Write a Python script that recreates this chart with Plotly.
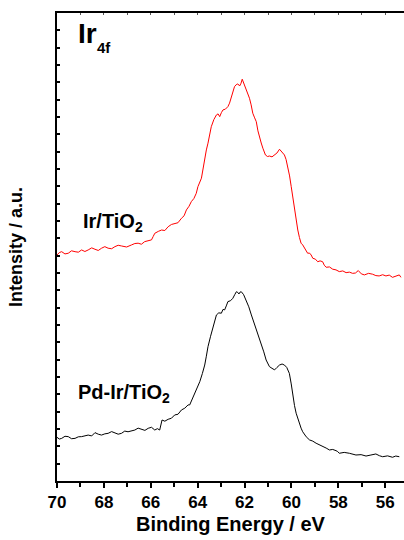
import plotly.graph_objects as go

# Ir/TiO2 (red, upper spectrum): binding energy (eV) and intensity (a.u.)
ir_be = [70.00, 69.90, 69.80, 69.66, 69.52, 69.38, 69.23, 69.09, 68.95, 68.81, 68.67, 68.52,
         68.38, 68.24, 68.10, 67.96, 67.82, 67.67, 67.53, 67.39, 67.25, 67.03, 66.82, 66.68,
         66.54, 66.40, 66.26, 66.11, 65.97, 65.90, 65.83, 65.68, 65.54, 65.40, 65.26, 65.12,
         64.98, 64.84, 64.69, 64.58, 64.48, 64.37, 64.27, 64.16, 64.06, 63.99, 63.84, 63.77,
         63.70, 63.63, 63.56, 63.49, 63.42, 63.31, 63.20, 63.13, 63.06, 62.99, 62.92, 62.82,
         62.71, 62.64, 62.57, 62.50, 62.43, 62.36, 62.29, 62.21, 62.15, 62.10, 62.02, 61.93,
         61.86, 61.79, 61.72, 61.65, 61.57, 61.50, 61.43, 61.36, 61.29, 61.22, 61.16, 61.11,
         61.02, 60.94, 60.83, 60.72, 60.62, 60.51, 60.44, 60.37, 60.30, 60.23, 60.16, 60.08,
         60.01, 59.90, 59.80, 59.73, 59.66, 59.59, 59.52, 59.44, 59.37, 59.31, 59.23, 59.16,
         59.09, 58.98, 58.88, 58.78, 58.67, 58.60, 58.52, 58.38, 58.24, 58.10, 57.96, 57.81,
         57.67, 57.53, 57.39, 57.27, 57.15, 57.02, 56.89, 56.71, 56.54, 56.40, 56.26, 56.11,
         55.97, 55.83, 55.69, 55.55, 55.40, 55.33]
ir_int = [13.04, 13.18, 13.23, 13.10, 13.14, 13.28, 13.23, 13.20, 13.33, 13.24, 13.33, 13.45,
          13.37, 13.30, 13.43, 13.52, 13.43, 13.40, 13.52, 13.60, 13.56, 13.50, 13.62, 13.70,
          13.72, 13.66, 13.81, 13.84, 13.91, 14.10, 14.29, 14.40, 14.48, 14.45, 14.67, 14.80,
          14.87, 14.90, 15.16, 15.30, 15.64, 15.85, 16.12, 16.30, 16.60, 16.98, 17.47, 18.10,
          18.71, 19.10, 19.49, 20.00, 20.44, 20.85, 21.12, 21.18, 21.02, 21.25, 21.41, 21.45,
          21.60, 21.80, 22.08, 22.45, 22.75, 22.86, 22.91, 22.79, 22.95, 23.18, 22.90, 22.56,
          22.35, 22.08, 21.70, 21.22, 20.95, 20.73, 20.20, 19.77, 19.50, 19.20, 18.95, 18.81,
          18.72, 18.75, 18.70, 18.81, 18.92, 19.14, 19.05, 18.95, 18.81, 18.55, 18.14, 17.60,
          16.98, 15.90, 14.87, 14.48, 14.05, 13.72, 13.62, 13.40, 13.23, 13.14, 13.15, 13.04,
          12.85, 12.80, 12.65, 12.70, 12.65, 12.45, 12.33, 12.35, 12.22, 12.18, 12.08, 12.12,
          12.02, 12.05, 11.98, 12.00, 12.14, 11.95, 11.89, 11.98, 11.93, 11.85, 11.83, 11.90,
          11.83, 11.88, 11.75, 11.80, 11.89, 11.75]

# Pd-Ir/TiO2 (black, lower spectrum)
pdir_be = [70.00, 69.90, 69.80, 69.66, 69.52, 69.38, 69.23, 69.09, 68.95, 68.81, 68.67, 68.52,
           68.38, 68.24, 68.10, 67.96, 67.82, 67.67, 67.53, 67.39, 67.25, 67.11, 66.97, 66.82,
           66.68, 66.54, 66.40, 66.25, 66.11, 65.97, 65.83, 65.72, 65.62, 65.52, 65.40, 65.26,
           65.12, 64.98, 64.84, 64.69, 64.55, 64.41, 64.34, 64.24, 64.13, 64.02, 63.91, 63.80,
           63.70, 63.63, 63.56, 63.45, 63.35, 63.27, 63.20, 63.10, 62.99, 62.92, 62.85, 62.78,
           62.71, 62.60, 62.50, 62.42, 62.35, 62.29, 62.24, 62.19, 62.14, 62.04, 61.93, 61.82,
           61.71, 61.60, 61.50, 61.40, 61.29, 61.18, 61.08, 61.01, 60.94, 60.83, 60.72, 60.62,
           60.51, 60.40, 60.30, 60.20, 60.09, 60.01, 59.94, 59.87, 59.80, 59.73, 59.66, 59.59,
           59.52, 59.37, 59.23, 59.09, 58.95, 58.81, 58.67, 58.52, 58.38, 58.24, 58.10, 58.03,
           57.96, 57.75, 57.53, 57.39, 57.25, 57.03, 56.82, 56.61, 56.40, 56.25, 56.11, 55.90,
           55.69, 55.55, 55.40]
pdir_int = [2.52, 2.42, 2.46, 2.58, 2.56, 2.44, 2.46, 2.55, 2.56, 2.62, 2.65, 2.60,
            2.79, 2.70, 2.65, 2.72, 2.75, 2.85, 2.79, 2.70, 2.75, 2.88, 2.84, 2.90,
            2.94, 3.05, 2.98, 2.92, 3.04, 3.10, 2.94, 3.02, 2.94, 3.52, 3.45, 3.56,
            3.62, 3.81, 3.85, 4.10, 4.20, 4.39, 4.39, 4.70, 5.06, 5.40, 5.73, 6.20,
            6.69, 7.20, 7.75, 8.35, 8.90, 9.30, 9.58, 9.70, 9.68, 9.90, 9.87, 10.10,
            10.35, 10.40, 10.54, 10.75, 10.92, 10.88, 10.79, 10.90, 10.92, 10.75, 10.44, 10.05,
            9.58, 9.15, 8.71, 8.30, 7.85, 7.45, 6.98, 6.80, 6.60, 6.50, 6.41, 6.55,
            6.69, 6.75, 6.69, 6.55, 6.21, 5.60, 4.86, 4.35, 3.91, 3.60, 3.33, 3.05,
            2.84, 2.55, 2.37, 2.30, 2.18, 2.10, 1.98, 1.90, 1.79, 1.82, 1.75, 1.70,
            1.60, 1.65, 1.60, 1.56, 1.50, 1.52, 1.44, 1.50, 1.56, 1.46, 1.40, 1.45,
            1.37, 1.44, 1.40]

x_major_ticks = [70, 68, 66, 64, 62, 60, 58, 56]
x_range = [70, 55.2]
y_range = [0, 27]

FONT = "Arial, Liberation Sans, sans-serif"

fig = go.Figure()
fig.add_trace(go.Scatter(x=ir_be, y=ir_int, mode="lines", name="Ir/TiO2",
                         line=dict(color="#ff0000", width=1), xaxis="x2", yaxis="y"))
fig.add_trace(go.Scatter(x=pdir_be, y=pdir_int, mode="lines", name="Pd-Ir/TiO2",
                         line=dict(color="#000000", width=1), xaxis="x", yaxis="y"))

W, H = 404, 540
L, R, T, B = 57, 0, 13, 59
pw, ph = W - L - R, H - T - B


def px(xp):
    return (xp - L) / pw


def py(yp):
    return (H - B - yp) / ph


fig.update_layout(
    width=W, height=H,
    margin=dict(l=L, r=R, t=T, b=B, autoexpand=False),
    paper_bgcolor="white", plot_bgcolor="white",
    showlegend=False,
    font=dict(family=FONT, color="black"),
    xaxis=dict(
        range=x_range, tickvals=x_major_ticks,
        ticktext=["<b>%d</b>" % v for v in x_major_ticks],
        ticks="outside", ticklen=5, tickwidth=1.5, tickcolor="black",
        showline=True, linewidth=2, linecolor="black", mirror=False,
        showgrid=False, zeroline=False, automargin=False,
        tickfont=dict(size=17, family=FONT),
        minor=dict(dtick=1, tick0=70, ticks="outside", ticklen=4, tickwidth=1.5,
                   tickcolor="black", showgrid=False),
        title=dict(text="<b>Binding Energy / eV</b>", font=dict(size=20, family=FONT),
                   standoff=6),
    ),
    xaxis2=dict(
        range=x_range, overlaying="x", side="top", dtick=1, tick0=70,
        ticks="inside", ticklen=2, tickwidth=1, tickcolor="#555555",
        showline=True, linewidth=2, linecolor="black", automargin=False,
        showticklabels=False, showgrid=False, zeroline=False,
    ),
    yaxis=dict(
        range=y_range, dtick=1, tick0=0,
        ticks="inside", ticklen=3, tickwidth=1.5, tickcolor="black",
        showline=True, linewidth=2, linecolor="black", mirror=False,
        showticklabels=False, showgrid=False, zeroline=False, automargin=False,
        title=dict(text="<b>Intensity / a.u.</b>", font=dict(size=18, family=FONT),
                   standoff=28),
    ),
    annotations=[
        dict(text="<b>Ir</b>", x=px(75.5), y=py(34), xref="paper", yref="paper",
             xanchor="left", yanchor="middle", showarrow=False,
             font=dict(size=28, family=FONT)),
        dict(text="<b>4f</b>", x=px(95), y=py(48), xref="paper", yref="paper",
             xanchor="left", yanchor="middle", showarrow=False,
             font=dict(size=15, family=FONT)),
        dict(text="<b>Ir/TiO<sub>2</sub></b>", x=px(80.5), y=py(223), xref="paper", yref="paper",
             xanchor="left", yanchor="middle", showarrow=False,
             font=dict(size=20, family=FONT)),
        dict(text="<b>Pd-Ir/TiO<sub>2</sub></b>", x=px(75.5), y=py(393), xref="paper", yref="paper",
             xanchor="left", yanchor="middle", showarrow=False,
             font=dict(size=20, family=FONT)),
    ],
)

fig.write_html("out.html", config={"displayModeBar": False},
               post_script="document.body.style.margin='0';")
